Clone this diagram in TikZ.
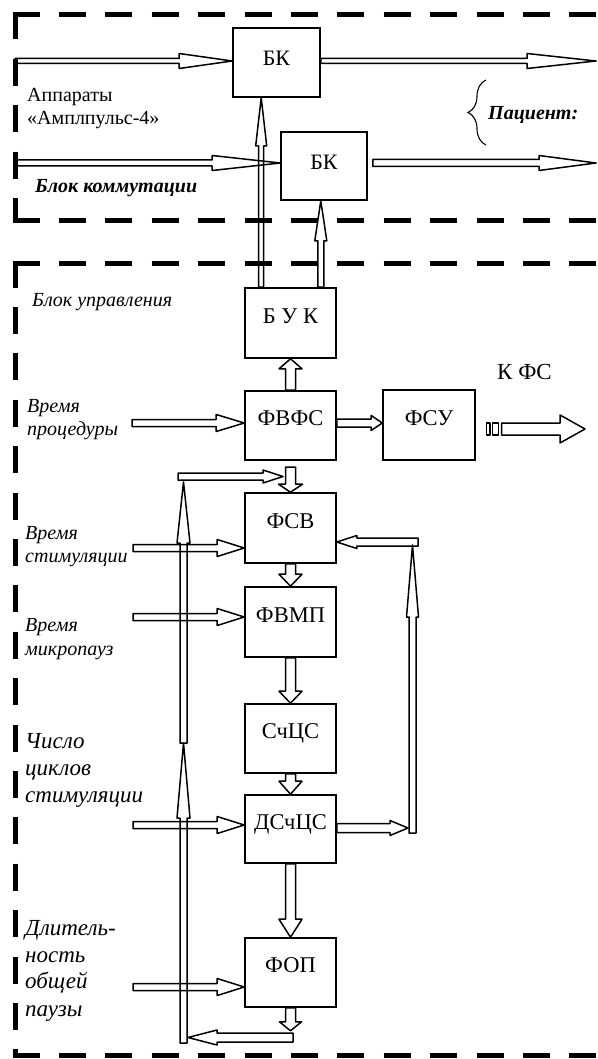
\documentclass[tikz,border=0pt]{standalone}
\usepackage{fontspec}
\setmainfont{Liberation Serif}
\usetikzlibrary{calc,decorations.pathreplacing}
\newcommand\barrow[6][]{%
  \coordinate (bahb) at ($(#3)!#6!(#2)$);
  \draw[arr,#1] ($(#2)!#4!90:(#3)$) -- ($(bahb)!#4!90:(#3)$) -- ($(bahb)!#5!90:(#3)$) -- (#3) -- ($(bahb)!#5!-90:(#3)$) -- ($(bahb)!#4!-90:(#3)$) -- ($(#2)!#4!-90:(#3)$) -- cycle;}
\begin{document}
\begin{tikzpicture}[x=1pt,y=-1pt,
  frame/.style={line width=5pt, dash pattern=on 27pt off 19.4pt},
  arr/.style={line width=1.5pt, line join=round},
  box/.style={draw, line width=1.6pt, inner sep=0pt, minimum width=91pt, minimum height=70pt,
     font=\fontsize{22.5}{25}\selectfont, text height=10pt, text depth=10pt},
  bkbox/.style={font=\fontsize{22}{25}\selectfont, text height=13pt, text depth=6.8pt},
  lbl/.style={anchor=base west, inner sep=0pt, font=\fontsize{20}{23}\selectfont},
  lbli/.style={lbl, font=\fontsize{20}{23}\selectfont\itshape},
  lblbig/.style={lbl, font=\fontsize{23}{26}\selectfont\itshape},
  lblbi/.style={lbl, font=\fontsize{20}{23}\selectfont\bfseries\itshape},
  brace/.style={decorate, decoration={brace, amplitude=18pt, aspect=0.5}, line width=1.1pt}]
\useasboundingbox (0,0) rectangle (597,1059);
\clip (0,0) rectangle (597,1059);
% frames
\draw[frame] (12.5,15) -- (610,15);
\draw[frame] (15,12.5) -- (15,221);
\draw[frame] (12.5,221) -- (610,221);
\draw[frame] (12.5,263) -- (610,263);
\draw[frame] (15,260.5) -- (15,1055);
\draw[frame] (12.5,1055) -- (610,1055);
% boxes
\node[box,bkbox,minimum width=87pt,minimum height=69pt] (BK1) at (276.5,62.5) {БК};
\node[box,bkbox,minimum width=86pt,minimum height=68pt] (BK2) at (324,166) {БК};
\node[box] (BUK) at (290.5,323) {Б У К};
\node[box,minimum height=69pt] (FVFS) at (290.5,425.5) {ФВФС};
\node[box,minimum width=92pt] (FSU) at (429,425) {ФСУ};
\node[box] (FSV) at (290.5,528) {ФСВ};
\node[box] (FVMP) at (290.5,622) {ФВМП};
\node[box,minimum height=69pt] (SCS) at (290.5,738.5) {СчЦС};
\node[box,minimum height=68pt] (DSCS) at (290.5,829) {ДСчЦС};
\node[box,minimum height=69pt] (FOP) at (290.5,972.5) {ФОП};
% top block arrows
\coordinate (a1) at (15,61); \coordinate (a1e) at (a1 -| BK1.west);
\barrow{a1}{a1e}{2.5pt}{7.5pt}{53pt}
\coordinate (a2) at (15,163); \coordinate (a2e) at (a2 -| BK2.west);
\barrow{a2}{a2e}{3pt}{7.5pt}{68pt}
\coordinate (b1s) at (a1 -| BK1.east); \coordinate (b1) at (596,61);
\barrow{b1s}{b1}{2.5pt}{7.5pt}{69pt}
\coordinate (b2s) at ($(a2 -| BK2.east)+(5,0)$); \coordinate (b2) at (596,163);
\barrow{b2s}{b2}{3.5pt}{7.5pt}{57pt}
\coordinate (u1s) at ($(BUK.north west)+(17,0)$); \coordinate (u1e) at (u1s |- BK1.south);
\barrow{u1s}{u1e}{2.5pt}{5.5pt}{48pt}
\coordinate (u2s) at ($(BUK.north east)+(-16,0)$); \coordinate (u2e) at (u2s |- BK2.south);
\barrow{u2s}{u2e}{3pt}{6pt}{40pt}
% control block
\barrow{FVFS.north}{BUK.south}{5pt}{11.5pt}{10pt}
\coordinate (p1) at (132,423); \coordinate (p1e) at (p1 -| FVFS.west);
\barrow{p1}{p1e}{3.5pt}{8.5pt}{28pt}
\coordinate (f1s) at (p1 -| FVFS.east); \coordinate (f1e) at (p1 -| FSU.west);
\barrow{f1s}{f1e}{4pt}{7.5pt}{11pt}
\draw[arr] (486.5,423) rectangle (490,435);
\draw[arr] (492.5,423) rectangle (498.5,435);
\coordinate (k1) at (501.5,429); \coordinate (k2) at (585,429);
\barrow{k1}{k2}{6pt}{14pt}{25pt}
% left riser
\coordinate (r0) at (183.5,1043); \coordinate (r1) at (183.5,743); \coordinate (r2) at (183.5,482);
\barrow{r0}{r1}{3.5pt}{6.5pt}{75pt}
\barrow{r1}{r2}{3.5pt}{6.5pt}{61pt}
\coordinate (h1) at (178,476.5); \coordinate (h2) at (283,476.5);
\barrow{h1}{h2}{3.5pt}{6.5pt}{20pt}
\coordinate (d1) at ($(FSV.north)+(0,-25)$);
\barrow{d1}{FSV.north}{5pt}{12pt}{8pt}
% main chain
\barrow{FSV.south}{FVMP.north}{5pt}{11.5pt}{12pt}
\barrow{FVMP.south}{SCS.north}{5pt}{11.5pt}{12pt}
\barrow{SCS.south}{DSCS.north}{5pt}{11.5pt}{13pt}
\barrow{DSCS.south}{FOP.north}{5pt}{11.5pt}{18pt}
\coordinate (fo) at ($(FOP.south)+(0,23)$);
\barrow{FOP.south}{fo}{5pt}{11pt}{9pt}
\coordinate (bh1) at (293,1037.5); \coordinate (bh2) at (188,1037.5);
\barrow{bh1}{bh2}{4.5pt}{7.5pt}{29pt}
% inputs
\coordinate (p2) at (133,548); \coordinate (p2e) at (p2 -| FSV.west);
\barrow{p2}{p2e}{3.5pt}{8.5pt}{27pt}
\coordinate (p3) at (133,617); \coordinate (p3e) at (p3 -| FVMP.west);
\barrow{p3}{p3e}{3.5pt}{8.5pt}{27pt}
\coordinate (p4) at (133,825); \coordinate (p4e) at (p4 -| DSCS.west);
\barrow{p4}{p4e}{3.5pt}{8.5pt}{27pt}
\coordinate (p5) at (133,987); \coordinate (p5e) at (p5 -| FOP.west);
\barrow{p5}{p5e}{3.5pt}{8.5pt}{27pt}
% right loop
\coordinate (q1s) at (DSCS.east |- 0,828); \coordinate (q1e) at (408,828);
\barrow{q1s}{q1e}{4.5pt}{7.5pt}{18pt}
\coordinate (rr0) at (412.5,833); \coordinate (rr1) at (412.5,545);
\barrow{rr0}{rr1}{3.5pt}{6pt}{72pt}
\coordinate (rh1) at (418,542); \coordinate (rh2) at (rh1 -| FSV.east);
\barrow{rh1}{rh2}{4pt}{6.5pt}{20pt}
% labels
\node[lbl] (t1) at (27,102) {Аппараты};
\node[lbl] (t2) at (27,125) {«Амплпульс-4»};
\node[lblbi] (t3) at (35,193) {Блок коммутации};
\node[lblbi] (t4) at (488,120) {Пациент:};
\draw[brace] (486,145) -- (486,80);
\node[lbli] (t5) at (32,306) {Блок управления};
\node[lbli] (t6) at (27,412) {Время};
\node[lbli] (t7) at (27,435) {процедуры};
\node[lbl,font=\fontsize{23}{26}\selectfont] (t8) at (497,379) {К ФС};
\node[lbli] (t9) at (25,539) {Время};
\node[lbli] (t10) at (25,562) {стимуляции};
\node[lbli] (t11) at (25,631) {Время};
\node[lbli] (t12) at (25,655) {микропауз};
\node[lblbig] (t13) at (25,748) {Число};
\node[lblbig] (t14) at (25,775) {циклов};
\node[lblbig] (t15) at (25,802) {стимуляции};
\node[lblbig] (t16) at (25,935) {Длитель-};
\node[lblbig] (t17) at (25,962) {ность};
\node[lblbig] (t18) at (25,988) {общей};
\node[lblbig] (t19) at (25,1016) {паузы};
\end{tikzpicture}
\end{document}
